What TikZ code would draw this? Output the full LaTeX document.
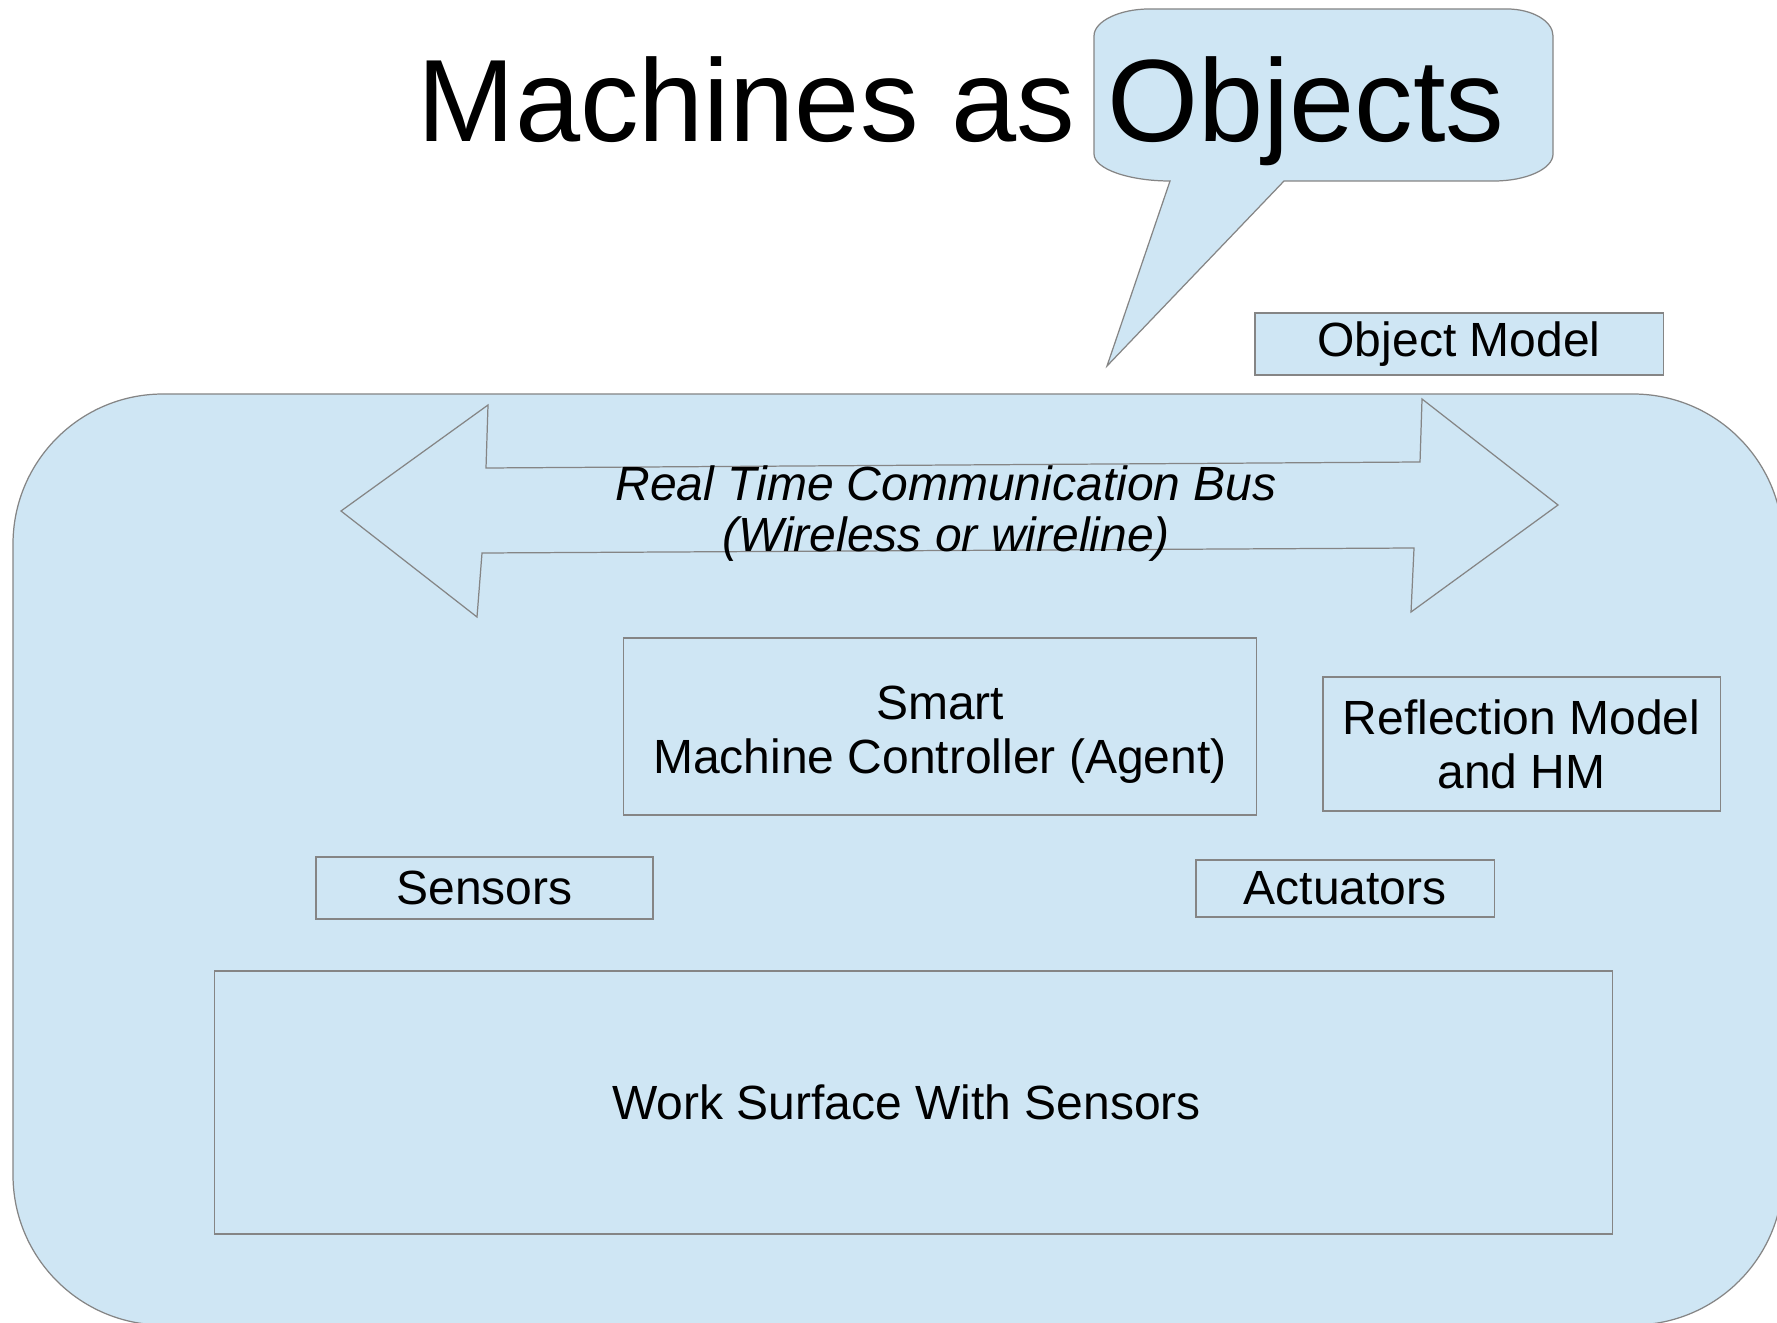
\documentclass[tikz,border=0pt]{standalone}
\usepackage{fontspec}
\setmainfont{Liberation Sans}
\definecolor{fillblue}{HTML}{CFE6F4}
\definecolor{edgegray}{HTML}{858585}
\newcommand\mybodyfont{\fontsize{13.65pt}{15.4pt}\selectfont}
\newcommand\mybusfont{\fontsize{13.65pt}{14.5pt}\selectfont\itshape}
\newcommand\mytitlefont{\fontsize{33.3pt}{40pt}\selectfont}
\begin{document}
\begin{tikzpicture}[x=0.01cm,y=-0.01cm,
  shapeline/.style={draw=edgegray,line width=0.35pt,fill=fillblue},
  boxnode/.style={shapeline,rectangle,inner sep=0pt,align=center,font=\mybodyfont},
  textnode/.style={inner sep=0pt,align=center},
]
\useasboundingbox (0,0) rectangle (1777,1322);
\fill[white] (0,0) rectangle (1777,1322);

% container
\begin{scope}
\clip (0,0) rectangle (1777,1322);
\draw[shapeline, rounded corners=1.5cm] (13,394) rectangle (1783,1325);
\end{scope}

% callout bubble
\draw[shapeline] (1149,9) -- (1507,9)
  .. controls (1532,9) and (1553,21) .. (1553,36)
  -- (1553,154)
  .. controls (1553,169) and (1526,181) .. (1494,181)
  -- (1284,181) -- (1107,366) -- (1170,181)
  .. controls (1129,181) and (1094,169) .. (1094,154)
  -- (1094,36)
  .. controls (1094,21) and (1120,9) .. (1149,9) -- cycle;

\node[textnode, anchor=base, font=\mytitlefont] (title) at (961,142) {Machines as Objects};

% double arrow (bus)
\draw[shapeline] (341,511) -- (488,405) -- (486,468) -- (1420,462) -- (1422,399)
  -- (1558,505) -- (1411,612) -- (1414,548) -- (482,553) -- (477,617) -- cycle;
\node[textnode, anchor=base, font=\mybusfont] (bus) at (946,551)
  {Real Time Communication Bus\\(Wireless or wireline)};

% boxes
\node[boxnode, minimum width=4.08cm, minimum height=0.62cm] (objmodel) at (1459,344) {Object Model};
\node[boxnode, minimum width=6.32cm, minimum height=1.77cm] (smart) at (940,726.5) {\rule{0pt}{14pt}Smart\\Machine Controller (Agent)};
\node[boxnode, minimum width=3.97cm, minimum height=1.34cm] (reflect) at (1521.5,744) {Reflection Model\\and HM};
\node[boxnode, minimum width=3.37cm, minimum height=0.62cm] (sensors) at (484.5,888) {Sensors};
\node[boxnode, minimum width=2.98cm, minimum height=0.57cm] (actuators) at (1345,888.5) {Actuators};
\node[boxnode, minimum width=13.97cm, minimum height=2.63cm] (work) at (913.5,1102.5) {\hspace*{-4pt}Work Surface With Sensors};
\end{tikzpicture}
\end{document}
